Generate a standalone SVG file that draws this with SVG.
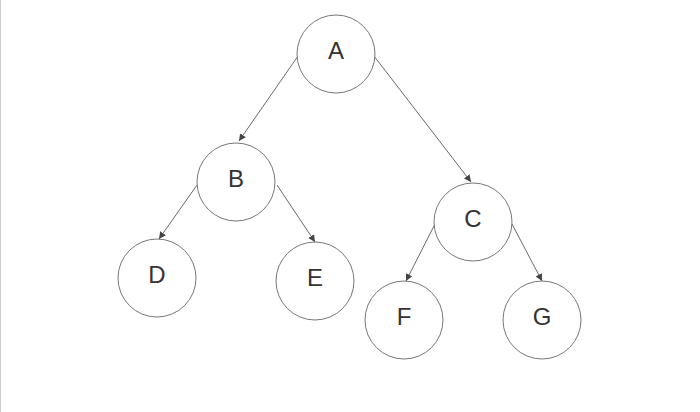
<svg xmlns="http://www.w3.org/2000/svg" width="700" height="412" viewBox="0 0 700 412">
<style>
circle{fill:#fff;stroke:#777;stroke-width:1}
text{font-family:"Liberation Sans",Arial,sans-serif;font-size:24px;fill:#333;text-anchor:middle;dominant-baseline:central}
.e{stroke:#444;stroke-width:0.8;fill:none;marker-end:url(#ah)}
</style>
<defs><marker id="ah" viewBox="0 0 10 10" refX="10" refY="5" markerWidth="7" markerHeight="7" orient="auto" markerUnits="userSpaceOnUse"><path d="M0,0L10,5L0,10z" fill="#444"/></marker></defs>
<rect width="700" height="412" fill="#fff"/>
<line x1="0.5" y1="0" x2="0.5" y2="412" stroke="#ccc"/>
<g id="connectors">
<path class="e" d="M298,56L239,141"/>
<path class="e" d="M374,56L471,182"/>
<path class="e" d="M197,185L159,239"/>
<path class="e" d="M277,185L315,242"/>
<path class="e" d="M435,224L406,281"/>
<path class="e" d="M512,224L542,281"/>
</g>
<g id="A"><circle cx="336" cy="54" r="39"/><text x="336" y="50">A</text></g>
<g id="B"><circle cx="236" cy="182" r="39"/><text x="236" y="178">B</text></g>
<g id="C"><circle cx="473" cy="222" r="39"/><text x="473" y="218">C</text></g>
<g id="D"><circle cx="157" cy="278" r="39"/><text x="157" y="274">D</text></g>
<g id="E"><circle cx="315" cy="281" r="39"/><text x="315" y="277">E</text></g>
<g id="F"><circle cx="404" cy="320" r="39"/><text x="404" y="316">F</text></g>
<g id="G"><circle cx="542" cy="320" r="39"/><text x="542" y="316">G</text></g>
</svg>
